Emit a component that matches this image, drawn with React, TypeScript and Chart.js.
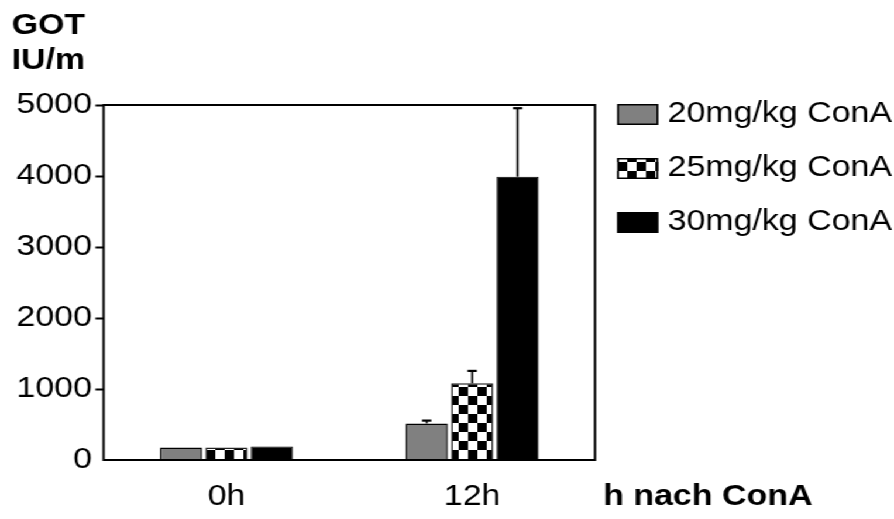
import React, { useEffect, useRef } from 'react';
import { Chart, registerables } from 'chart.js';

Chart.register(...registerables);

// Time points and serum GOT (IU/ml) per ConA dose, with upper error (SEM)
const categories = ['0h', '12h'];
const seriesLabels = ['20mg/kg ConA', '25mg/kg ConA', '30mg/kg ConA'];
const got20 = [175, 515];
const got25 = [175, 1080];
const got30 = [190, 3990];
const err20 = [0, 40];
const err25 = [0, 175];
const err30 = [0, 965];
const yTicks = [0, 1000, 2000, 3000, 4000, 5000];
const yTitle = ['GOT', 'IU/m'];
const xTitle = 'h nach ConA';

// The figure's lettering is a little wide; the canvas is drawn narrower and stretched.
const STRETCH = 894 / 764;
const CANVAS_W = 764;
const CANVAS_H = 519;
const FONT = "'Liberation Sans', Arial, sans-serif";
const LABEL_BASELINE = 505;

function makeChecker(ctx: CanvasRenderingContext2D): CanvasPattern | string {
  const tile = document.createElement('canvas');
  tile.width = 16;
  tile.height = 18;
  const t = tile.getContext('2d');
  if (!t) return '#666';
  t.fillStyle = '#ffffff';
  t.fillRect(0, 0, 16, 18);
  t.fillStyle = '#000000';
  t.fillRect(0, 0, 8, 9);
  t.fillRect(8, 9, 8, 9);
  return ctx.createPattern(tile, 'repeat') || '#666';
}

const errorBars = {
  id: 'errorBars',
  afterDatasetsDraw(chart: any) {
    const { ctx } = chart;
    const y = chart.scales.y;
    ctx.save();
    ctx.strokeStyle = '#000';
    chart.data.datasets.forEach((ds: any, i: number) => {
      const meta = chart.getDatasetMeta(i);
      meta.data.forEach((bar: any, j: number) => {
        const err = ds.errors[j];
        if (!err) return;
        const v = ds.data[j];
        const yBar = y.getPixelForValue(v);
        const yTop = y.getPixelForValue(v + err);
        ctx.lineWidth = 1.7;
        ctx.beginPath();
        ctx.moveTo(bar.x, yBar);
        ctx.lineTo(bar.x, yTop);
        ctx.stroke();
        ctx.lineWidth = 2.2;
        ctx.beginPath();
        ctx.moveTo(bar.x - 4, yTop);
        ctx.lineTo(bar.x + 4, yTop);
        ctx.stroke();
      });
    });
    ctx.restore();
  },
};

const frameAndLabels = {
  id: 'frameAndLabels',
  afterDraw(chart: any) {
    const { ctx, chartArea } = chart;
    const { left, right, top, bottom } = chartArea;
    const xScale = chart.scales.x;
    ctx.save();

    // box round the plot
    ctx.strokeStyle = '#000';
    ctx.lineWidth = 2;
    ctx.strokeRect(left, top, right - left, bottom - top);

    // category labels under each group
    ctx.fillStyle = '#000';
    ctx.font = `29px ${FONT}`;
    ctx.textAlign = 'center';
    ctx.textBaseline = 'alphabetic';
    chart.data.labels.forEach((lab: string, i: number) => {
      ctx.fillText(lab, xScale.getPixelForValue(i), LABEL_BASELINE);
    });

    // y-axis title, two lines at the top left
    ctx.font = `bold 29px ${FONT}`;
    ctx.textAlign = 'left';
    ctx.fillText(yTitle[0], 10, 34);
    ctx.fillText(yTitle[1], 10, 69);

    // x-axis title beside the axis end
    ctx.fillText(xTitle, right + 7, LABEL_BASELINE);

    // legend
    const lx = right + 19;
    ctx.font = `29px ${FONT}`;
    chart.data.datasets.forEach((ds: any, i: number) => {
      const bt = top - 1 + i * 54;
      ctx.fillStyle = ds.backgroundColor;
      ctx.fillRect(lx, bt, 35, 21);
      ctx.strokeStyle = '#000';
      ctx.lineWidth = 1.5;
      ctx.strokeRect(lx + 0.75, bt + 0.75, 33.5, 19.5);
      ctx.fillStyle = '#000';
      ctx.fillText(ds.label, lx + 43, bt + 18);
    });

    ctx.restore();
  },
};

export default function App() {
  const canvasRef = useRef<HTMLCanvasElement | null>(null);

  useEffect(() => {
    const canvas = canvasRef.current;
    if (!canvas) return;
    const ctx = canvas.getContext('2d');
    if (!ctx) return;
    const checker = makeChecker(ctx);

    const chart = new Chart(ctx, {
      type: 'bar',
      data: {
        labels: categories,
        datasets: [
          {
            label: seriesLabels[0],
            data: got20,
            backgroundColor: '#808080',
            borderColor: '#000',
            borderWidth: 1.5,
            errors: err20,
          } as any,
          {
            label: seriesLabels[1],
            data: got25,
            backgroundColor: checker,
            borderColor: '#222',
            borderWidth: 1.5,
            errors: err25,
          } as any,
          {
            label: seriesLabels[2],
            data: got30,
            backgroundColor: '#000000',
            borderColor: '#000',
            borderWidth: 1,
            errors: err30,
          } as any,
        ],
      },
      options: {
        animation: false,
        responsive: true,
        maintainAspectRatio: false,
        devicePixelRatio: 1,
        layout: { padding: { left: 11, right: 255.5, top: 105, bottom: 59 } },
        plugins: {
          legend: { display: false },
          title: { display: false },
          tooltip: { enabled: false },
        },
        datasets: {
          bar: { categoryPercentage: 0.555, barPercentage: 0.93 },
        },
        scales: {
          x: {
            type: 'category',
            offset: true,
            grid: { display: false, drawTicks: false },
            border: { display: false },
            ticks: { display: false },
          },
          y: {
            type: 'linear',
            min: yTicks[0],
            max: yTicks[yTicks.length - 1],
            afterBuildTicks: (scale: any) => {
              scale.ticks = yTicks.map((v) => ({ value: v }));
            },
            grid: {
              drawOnChartArea: false,
              drawTicks: true,
              tickLength: 7,
              tickWidth: 2,
              tickColor: (c: any) => (c.tick && c.tick.value === 0 ? 'rgba(0,0,0,0)' : '#000'),
            },
            border: { display: false },
            ticks: {
              color: '#000',
              padding: 3,
              font: { family: FONT, size: 29 },
              callback: (v: any) => String(v),
            },
          },
        },
      },
      plugins: [errorBars, frameAndLabels],
    } as any);

    return () => chart.destroy();
  }, []);

  return (
    <div
      style={{
        position: 'fixed',
        left: 0,
        top: 0,
        width: `${CANVAS_W}px`,
        height: `${CANVAS_H}px`,
        transform: `scaleX(${STRETCH})`,
        transformOrigin: '0 0',
        background: '#fff',
      }}
    >
      <canvas ref={canvasRef} />
    </div>
  );
}
